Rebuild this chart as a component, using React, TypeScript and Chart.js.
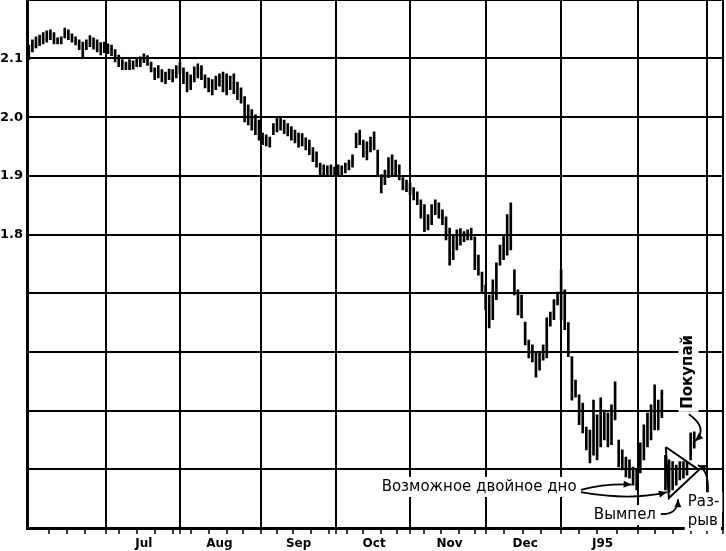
import React, { useEffect, useRef } from 'react';
import { Chart, registerables } from 'chart.js';

Chart.register(...registerables);

// Daily bars, trading-day index 0 = first session of June 1994
const highs = [
  2.123, 2.132, 2.137, 2.140, 2.144, 2.147, 2.149, 2.144, 2.135, 2.137,
  2.152, 2.149, 2.142, 2.137, 2.132, 2.128, 2.132, 2.139, 2.135, 2.132,
  2.127, 2.128, 2.125, 2.123, 2.115, 2.106, 2.098, 2.094, 2.098, 2.096,
  2.101, 2.103, 2.108, 2.105, 2.094, 2.084, 2.088, 2.081, 2.077, 2.082,
  2.081, 2.088, 2.093, 2.084, 2.077, 2.072, 2.086, 2.091, 2.088, 2.072,
  2.067, 2.064, 2.070, 2.074, 2.077, 2.074, 2.070, 2.074, 2.060, 2.050,
  2.035, 2.021, 2.013, 2.004, 1.995, 1.973, 1.970, 1.966, 1.989, 1.999,
  2.001, 1.995, 1.989, 1.984, 1.978, 1.973, 1.972, 1.965, 1.961, 1.948,
  1.941, 1.922, 1.919, 1.917, 1.919, 1.915, 1.919, 1.917, 1.922, 1.927,
  1.936, 1.973, 1.978, 1.961, 1.958, 1.966, 1.975, 1.944, 1.902, 1.910,
  1.931, 1.936, 1.927, 1.919, 1.897, 1.893, 1.888, 1.880, 1.873, 1.859,
  1.851, 1.834, 1.851, 1.859, 1.854, 1.842, 1.830, 1.811, 1.799, 1.808,
  1.810, 1.805, 1.808, 1.811, 1.796, 1.765, 1.736, 1.714, 1.697, 1.723,
  1.752, 1.782, 1.799, 1.834, 1.854, 1.740, 1.706, 1.697, 1.651, 1.620,
  1.612, 1.600, 1.600, 1.612, 1.658, 1.668, 1.689, 1.702, 1.740, 1.706,
  1.650, 1.592, 1.552, 1.527, 1.513, 1.472, 1.467, 1.518, 1.493, 1.522,
  1.501, 1.496, 1.510, 1.549, 1.450, 1.433, 1.421, 1.416, 1.404, 1.399,
  1.445, 1.476, 1.496, 1.510, 1.544, 1.518, 1.535, 1.424, 1.416, 1.413,
  1.407, 1.413, 1.413, 1.413, 1.462, 1.464,
];
const lows = [
  2.098, 2.111, 2.118, 2.122, 2.125, 2.128, 2.132, 2.125, 2.125, 2.125,
  2.135, 2.132, 2.128, 2.123, 2.115, 2.101, 2.115, 2.120, 2.116, 2.111,
  2.106, 2.110, 2.108, 2.105, 2.094, 2.086, 2.081, 2.081, 2.081, 2.082,
  2.086, 2.086, 2.093, 2.088, 2.077, 2.064, 2.067, 2.060, 2.057, 2.064,
  2.060, 2.067, 2.074, 2.057, 2.043, 2.047, 2.060, 2.067, 2.064, 2.050,
  2.043, 2.038, 2.047, 2.053, 2.043, 2.038, 2.047, 2.040, 2.030, 2.024,
  1.992, 1.987, 1.978, 1.970, 1.961, 1.953, 1.951, 1.949, 1.970, 1.975,
  1.978, 1.972, 1.968, 1.961, 1.956, 1.949, 1.951, 1.944, 1.936, 1.924,
  1.915, 1.902, 1.900, 1.900, 1.902, 1.900, 1.902, 1.900, 1.905, 1.910,
  1.915, 1.948, 1.953, 1.932, 1.927, 1.941, 1.944, 1.902, 1.871, 1.885,
  1.897, 1.902, 1.900, 1.893, 1.876, 1.873, 1.868, 1.859, 1.851, 1.828,
  1.805, 1.808, 1.817, 1.834, 1.828, 1.817, 1.791, 1.748, 1.757, 1.774,
  1.782, 1.788, 1.791, 1.791, 1.740, 1.731, 1.702, 1.672, 1.641, 1.655,
  1.689, 1.748, 1.757, 1.765, 1.774, 1.697, 1.663, 1.658, 1.612, 1.590,
  1.583, 1.557, 1.569, 1.586, 1.590, 1.644, 1.655, 1.680, 1.655, 1.638,
  1.592, 1.518, 1.523, 1.476, 1.462, 1.433, 1.411, 1.424, 1.416, 1.438,
  1.450, 1.438, 1.442, 1.484, 1.404, 1.399, 1.387, 1.385, 1.373, 1.365,
  1.394, 1.416, 1.438, 1.450, 1.467, 1.467, 1.488, 1.365, 1.361, 1.365,
  1.373, 1.382, 1.385, 1.390, 1.416, 1.436,
];

// Axis definitions
const monthBounds = [21.5, 42, 64.5, 85.5, 106, 127, 148, 169.5, 188.5, 193];
const weekTicks = [
  5.5, 10.5, 15.5, 25, 30, 35, 40, 45, 50, 55, 59.5, 69, 73.5, 78.5, 83.5,
  88.5, 93, 98, 102.5, 110, 114.5, 119.5, 124, 132, 137.5, 142.5, 153, 158,
  163.5, 174, 179, 184,
];
const monthLabels = ['Jul', 'Aug', 'Sep', 'Oct', 'Nov', 'Dec', 'J95'];
const monthLabelPos = [32, 53, 75, 96, 117, 138, 159.5];
const yGrid = [1.3, 1.4, 1.5, 1.6, 1.7, 1.8, 1.9, 2.0, 2.1, 2.2];
const yLabelled = [2.1, 2.0, 1.9, 1.8];

// Pennant triangle vertices (index, price)
const pennantX = [177.1, 186.3, 177.95, 177.1];
const pennantY = [1.438, 1.399, 1.351, 1.438];

const FONT = '"DejaVu Sans", sans-serif';

const notesPlugin = {
  id: 'notes',
  afterDatasetsDraw(chart: any) {
    const { ctx, scales } = chart;
    const xs = scales.x;
    const ys = scales.y;
    const px = (i: number) => xs.getPixelForValue(i);
    const py = (v: number) => ys.getPixelForValue(v);
    ctx.save();
    ctx.fillStyle = '#000';
    ctx.strokeStyle = '#000';

    const text = (s: string, i: number, v: number, font: string, box: boolean) => {
      ctx.font = font;
      const w = ctx.measureText(s).width;
      const x = px(i);
      const y = py(v);
      if (box) {
        ctx.fillStyle = '#fff';
        ctx.fillRect(x - 3, y - 10, w + 6, 20);
      }
      ctx.fillStyle = '#000';
      ctx.textAlign = 'left';
      ctx.textBaseline = 'middle';
      ctx.fillText(s, x, y);
    };

    const arrow = (a: number[], c: number[], b: number[]) => {
      const x0 = px(a[0]), y0 = py(a[1]);
      const x1 = px(c[0]), y1 = py(c[1]);
      const x2 = px(b[0]), y2 = py(b[1]);
      ctx.lineWidth = 1.8;
      ctx.beginPath();
      ctx.moveTo(x0, y0);
      ctx.quadraticCurveTo(x1, y1, x2, y2);
      ctx.stroke();
      const ang = Math.atan2(y2 - y1, x2 - x1);
      const L = 8, W = 3.5;
      ctx.beginPath();
      ctx.moveTo(x2, y2);
      ctx.lineTo(x2 - L * Math.cos(ang) + W * Math.sin(ang), y2 - L * Math.sin(ang) - W * Math.cos(ang));
      ctx.lineTo(x2 - L * Math.cos(ang) - W * Math.sin(ang), y2 - L * Math.sin(ang) + W * Math.cos(ang));
      ctx.closePath();
      ctx.fill();
    };

    const f15 = `15px ${FONT}`;
    text('Возможное двойное дно', 98.1, 1.370, f15, true);
    text('Вымпел', 157.1, 1.322, f15, true);
    text('Раз-', 183.2, 1.344, f15, true);
    text('рыв', 183.2, 1.312, f15, true);

    // vertical "Покупай"
    ctx.font = `bold 15px ${FONT}`;
    const pw = ctx.measureText('Покупай').width;
    const cx = px(183.4), cy = py(1.566);
    ctx.save();
    ctx.translate(cx, cy);
    ctx.rotate(-Math.PI / 2);
    ctx.fillStyle = '#fff';
    ctx.fillRect(-pw / 2 - 3, -10, pw + 6, 20);
    ctx.fillStyle = '#000';
    ctx.textAlign = 'center';
    ctx.textBaseline = 'middle';
    ctx.fillText('Покупай', 0, 0);
    ctx.restore();

    arrow([153.5, 1.365], [160.4, 1.376], [167.6, 1.374]);
    arrow([153.5, 1.361], [167.4, 1.346], [177.4, 1.361]);
    arrow([175.7, 1.324], [180.4, 1.322], [180.5, 1.349]);
    arrow([183.5, 1.494], [189.1, 1.470], [185.2, 1.448]);
    arrow([188.8, 1.361], [189.1, 1.399], [186.0, 1.407]);
    ctx.restore();
  },
};

export default function App() {
  const ref = useRef<HTMLCanvasElement>(null);
  useEffect(() => {
    document.body.style.margin = '0';
    const barData = highs.map((h, i) => ({ x: i, y: [lows[i], h] }));
    const triData = pennantX.map((x, i) => ({ x, y: pennantY[i] }));
    const chart = new Chart(ref.current as HTMLCanvasElement, {
      type: 'bar',
      data: {
        datasets: [
          {
            type: 'bar',
            data: barData as any,
            backgroundColor: '#000',
            borderWidth: 0,
            barThickness: 2,
            grouped: false,
          } as any,
          {
            type: 'scatter',
            data: triData,
            showLine: true,
            borderColor: '#000',
            borderWidth: 2,
            pointRadius: 0,
            fill: false,
          } as any,
        ],
      },
      options: {
        animation: false,
        responsive: true,
        maintainAspectRatio: false,
        events: [],
        layout: { padding: 0 },
        plugins: { legend: { display: false }, tooltip: { enabled: false } },
        scales: {
          x: {
            type: 'linear',
            min: -0.5,
            max: 193,
            offset: false,
            afterBuildTicks: (s: any) => {
              const vals = [...monthBounds, ...weekTicks, ...monthLabelPos].sort((a, b) => a - b);
              s.ticks = vals.map((v) => ({ value: v }));
            },
            afterFit: (s: any) => { s.height = 23; },
            ticks: {
              autoSkip: false,
              maxRotation: 0,
              padding: 3,
              color: '#000',
              font: { family: FONT, size: 12, weight: 'bold' },
              callback: (v: any) => {
                const k = monthLabelPos.indexOf(Number(v));
                return k >= 0 ? monthLabels[k] : '';
              },
            },
            grid: {
              offset: false,
              color: (c: any) => (c.tick && monthBounds.includes(c.tick.value) ? '#000' : 'rgba(0,0,0,0)'),
              tickColor: (c: any) => (c.tick && monthLabelPos.includes(c.tick.value) ? 'rgba(0,0,0,0)' : '#000'),
              lineWidth: 2,
              tickWidth: 1.5,
              tickLength: 6,
            },
            border: { display: true, color: '#000', width: 3 },
          },
          y: {
            type: 'linear',
            min: 1.3,
            max: 2.2,
            afterBuildTicks: (s: any) => { s.ticks = yGrid.map((v) => ({ value: v })); },
            afterFit: (s: any) => { s.width = 27; },
            ticks: {
              color: '#000',
              padding: 0,
              crossAlign: 'far',
              font: { family: FONT, size: 13, weight: 'bold' },
              callback: (v: any) => (yLabelled.some((t) => Math.abs(t - Number(v)) < 1e-6) ? Number(v).toFixed(1) : ''),
            },
            grid: { color: '#000', lineWidth: 2, drawTicks: false },
            border: { display: true, color: '#000', width: 3 },
          },
        },
      },
      plugins: [notesPlugin],
    } as any);
    return () => chart.destroy();
  }, []);
  return (
    <div style={{ position: 'fixed', left: 0, top: -8, width: 726, height: 559, background: '#fff' }}>
      <canvas ref={ref} />
    </div>
  );
}
